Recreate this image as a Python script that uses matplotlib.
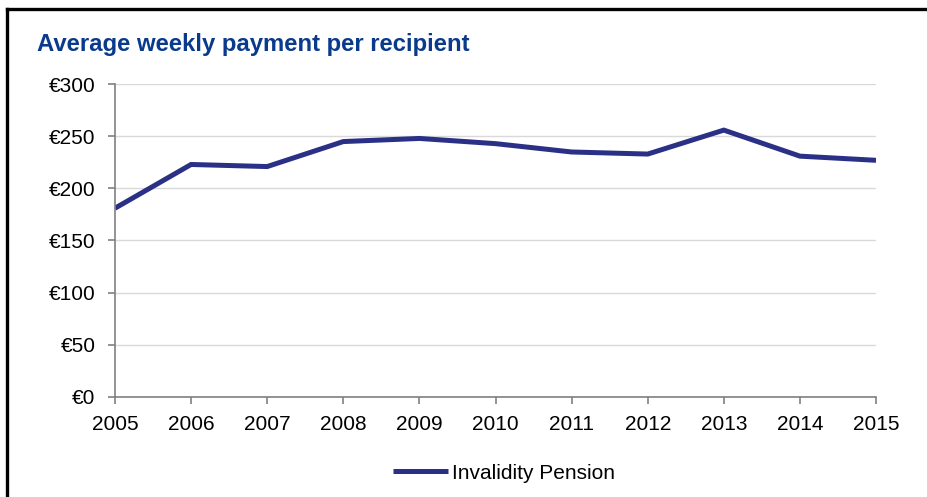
import matplotlib
matplotlib.use("Agg")
import matplotlib.pyplot as plt
from matplotlib.lines import Line2D
from matplotlib.ticker import FuncFormatter

plt.rcParams['font.family'] = ['Liberation Sans', 'DejaVu Sans']

years = [2005, 2006, 2007, 2008, 2009, 2010, 2011, 2012, 2013, 2014, 2015]
invalidity_pension = [181, 223, 221, 245, 248, 243, 235, 233, 256, 231, 227]
y_ticks = [0, 50, 100, 150, 200, 250, 300]

title = "Average weekly payment per recipient"
series_label = "Invalidity Pension"

line_color = "#2b3087"
title_color = "#0a3a8c"
axis_gray = "#808080"
grid_gray = "#d9d9d9"

fig = plt.figure(figsize=(9.28, 4.97), dpi=100)
ax = fig.add_axes([0.1239, 0.2018, 0.944 - 0.1239, 0.8304 - 0.2018])

ax.plot(years, invalidity_pension, color=line_color, lw=3.6,
        solid_joinstyle='miter', solid_capstyle='butt', label=series_label)

ax.set_xlim(years[0], years[-1])
ax.set_ylim(y_ticks[0], y_ticks[-1])
ax.set_xticks(years)
ax.set_yticks(y_ticks)
ax.yaxis.set_major_formatter(FuncFormatter(lambda v, p: f"€{v:.0f}"))

ax.grid(axis='y', color=grid_gray, lw=1.0)
ax.set_axisbelow(True)
for s in ('top', 'right'):
    ax.spines[s].set_visible(False)
for s in ('left', 'bottom'):
    ax.spines[s].set_color(axis_gray)
    ax.spines[s].set_linewidth(1.2)

ax.tick_params(axis='both', colors=axis_gray, labelcolor='black',
               labelsize=15, length=5, width=1.2, direction='out')
ax.tick_params(axis='y', pad=9)
ax.tick_params(axis='x', pad=8)

fig.text(37 / 928, 1 - 45 / 497, title, color=title_color, fontsize=17.2,
         fontweight='bold', ha='left', va='center')

fig.legend(loc='center', bbox_to_anchor=(0.543, 0.048), frameon=False,
           fontsize=15, handlelength=2.65, handletextpad=0.15)

# frame along top and left edges of the figure
fig.add_artist(Line2D([7 / 928, 1.0], [1 - 9 / 497, 1 - 9 / 497],
                      transform=fig.transFigure, color='black', lw=2.4))
fig.add_artist(Line2D([7 / 928, 7 / 928], [0.0, 1 - 9 / 497],
                      transform=fig.transFigure, color='black', lw=2.4))

fig.savefig("out.png", dpi=100)
